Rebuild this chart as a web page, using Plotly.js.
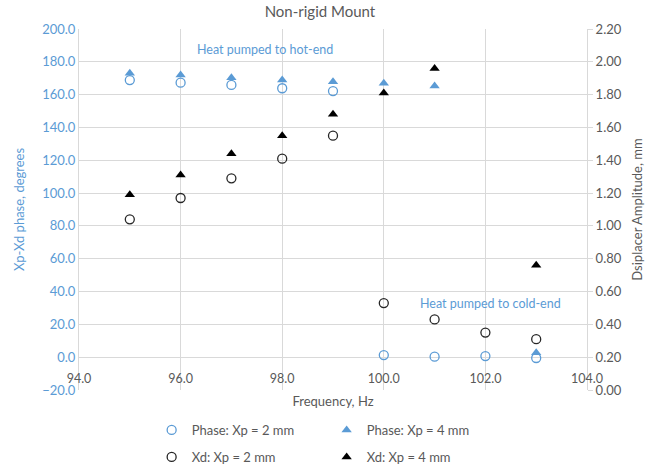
<!DOCTYPE html>
<html>
<head>
<meta charset="utf-8">
<script src="https://cdn.plot.ly/plotly-3.0.1.min.js"></script>
<style>html,body{margin:0;padding:0;background:#fff;}#chart{width:645px;height:467px;}</style>
</head>
<body>
<div id="chart"></div>
<script>
// Frequencies (Hz)
const freqXp2 = [95, 96, 97, 98, 99, 100, 101, 102, 103];
const freqXp4 = [95, 96, 97, 98, 99, 100, 101, 103];
// Phase Xp-Xd (degrees)
const phaseXp2 = [168.9, 167.3, 165.9, 163.9, 162.2, 1.3, 0.3, 0.7, -0.5];
const phaseXp4 = [173.0, 172.0, 170.3, 168.9, 167.9, 166.9, 165.3, 2.7];
// Displacer amplitude (mm)
const xdXp2 = [1.04, 1.17, 1.29, 1.41, 1.55, 0.53, 0.43, 0.35, 0.31];
const xdXp4 = [1.19, 1.31, 1.44, 1.55, 1.68, 1.81, 1.96, 0.76];

const blue = '#5B9BD5';
const grey = '#595959';
const grid = '#D9D9D9';
const FONT = 'Lato, "Open Sans", sans-serif';

const traces = [
  {x: freqXp2, y: phaseXp2, name: 'Phase: Xp = 2 mm', type: 'scatter', mode: 'markers',
   marker: {symbol: 'circle-open', size: 9, color: blue, line: {width: 1.3, color: blue}}, legend: 'legend'},
  {x: freqXp4, y: phaseXp4, name: 'Phase: Xp = 4 mm', type: 'scatter', mode: 'markers',
   marker: {symbol: 'triangle-up', size: 9, color: blue}, legend: 'legend'},
  {x: freqXp2, y: xdXp2, name: 'Xd: Xp = 2 mm', type: 'scatter', mode: 'markers', yaxis: 'y2',
   marker: {symbol: 'circle-open', size: 9, color: '#262626', line: {width: 1.3, color: '#262626'}}, legend: 'legend2'},
  {x: freqXp4, y: xdXp4, name: 'Xd: Xp = 4 mm', type: 'scatter', mode: 'markers', yaxis: 'y2',
   marker: {symbol: 'triangle-up', size: 9, color: '#000000'}, legend: 'legend2'}
];

const layout = {
  width: 645, height: 467,
  margin: {l: 79, r: 58, t: 29, b: 77, autoexpand: false},
  paper_bgcolor: '#fff', plot_bgcolor: '#fff',
  font: {family: FONT, size: 12, color: grey},
  title: {text: 'Non-rigid Mount', x: 0.496, xanchor: 'center', y: 0.975, yanchor: 'middle',
          font: {family: FONT, size: 15, color: grey}},
  xaxis: {range: [94, 104], dtick: 2, tick0: 94, tickformat: '.1f',
          anchor: 'free', position: 20/220, automargin: false, ticklabelstandoff: 12,
          showgrid: true, gridcolor: grid, gridwidth: 1, showline: false, zeroline: false, ticks: '',
          tickfont: {family: FONT, size: 12.5, color: grey},
          title: {text: 'Frequency, Hz', standoff: 12, font: {family: FONT, size: 13, color: grey}}},
  yaxis: {range: [-20, 200], dtick: 20, tickformat: '.1f', automargin: true,
          showgrid: true, gridcolor: grid, gridwidth: 1, zeroline: false,
          showline: true, linecolor: grid, linewidth: 1, ticks: '',
          tickfont: {family: FONT, size: 13, color: blue},
          title: {text: 'Xp-Xd phase, degrees', standoff: 14, font: {family: FONT, size: 13, color: blue}}},
  yaxis2: {range: [0, 2.2], dtick: 0.2, tickformat: '.2f', overlaying: 'y', side: 'right', automargin: true,
           showgrid: false, zeroline: false, showline: true, linecolor: grid, linewidth: 1,
           ticks: 'outside', ticklen: 5, tickcolor: grid,
           tickfont: {family: FONT, size: 13, color: grey},
           title: {text: 'Dsiplacer Amplitude, mm', standoff: 14, font: {family: FONT, size: 13, color: grey}}},
  showlegend: true,
  legend: {orientation: 'h', x: 0.143, xanchor: 'left', yref: 'container', y: (467 - 430) / 467, yanchor: 'middle',
           entrywidth: 130, entrywidthmode: 'pixels', font: {family: FONT, size: 13, color: grey},
           bgcolor: 'rgba(0,0,0,0)'},
  legend2: {orientation: 'h', x: 0.143, xanchor: 'left', yref: 'container', y: (467 - 457) / 467, yanchor: 'middle',
           entrywidth: 130, entrywidthmode: 'pixels', font: {family: FONT, size: 13, color: grey},
           bgcolor: 'rgba(0,0,0,0)'},
  annotations: [
    {text: 'Heat pumped to hot-end', x: 97.66, y: 187.5, xref: 'x', yref: 'y', showarrow: false,
     font: {family: FONT, size: 12.5, color: blue}},
    {text: 'Heat pumped to cold-end', x: 102.1, y: 32.5, xref: 'x', yref: 'y', showarrow: false,
     font: {family: FONT, size: 12.5, color: blue}}
  ]
};

Plotly.newPlot('chart', traces, layout, {displayModeBar: false, staticPlot: true});
</script>
</body>
</html>
